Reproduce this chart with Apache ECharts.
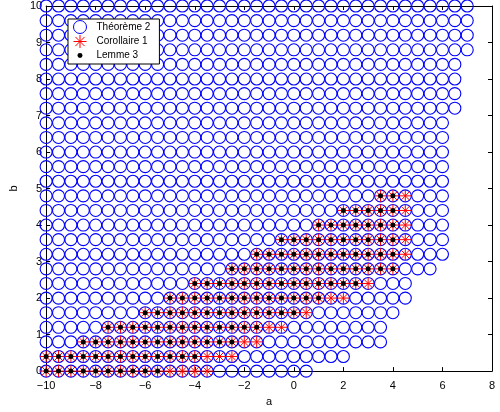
<!DOCTYPE html>
<html>
<head>
<meta charset="utf-8">
<script src="https://cdn.jsdelivr.net/npm/echarts@6/dist/echarts.min.js"></script>
<style>
html,body{margin:0;padding:0;background:#fff;}
#chart{width:500px;height:412px;}
</style>
</head>
<body>
<div id="chart"></div>
<script>
// ---- data ----
// rows of the grid (values of b)
const bValues = [0, 0.4, 0.8, 1.2, 1.6, 2.0, 2.4, 2.8, 3.2, 3.6, 4.0, 4.4, 4.8, 5.2, 5.6, 6.0, 6.4, 6.8, 7.2, 7.6, 8.0, 8.4, 8.8, 9.2, 9.6, 10.0];
// a starts at -10 in every row, step 0.5
const aStart = -10;
const aStep = 0.5;
// Théorème 2: last a of each row
const theoremMaxA = [0.5, 2.0, 3.5, 3.5, 4.0, 4.5, 4.5, 5.5, 6.0, 6.0, 6.0, 6.0, 6.0, 6.0, 6.0, 6.0, 6.0, 6.0, 6.5, 6.5, 6.5, 6.5, 7.0, 7.0, 7.0, 7.0];
// Corollaire 1: [first a, last a] for rows b = 0 .. 4.8
const corollaryMinA = [-10, -10, -8.5, -7.5, -6.0, -5.0, -4.0, -2.5, -1.5, -0.5, 1.0, 2.0, 3.5];
const corollaryMaxA = [-3.5, -2.5, -1.5, -0.5, 0.5, 2.0, 3.0, 4.0, 4.5, 4.5, 4.5, 4.5, 4.5];
// Lemme 3: [first a, last a] for rows b = 0 .. 4.8
const lemmaMinA = [-10, -10, -8.5, -7.5, -6.0, -5.0, -4.0, -2.5, -1.5, -0.5, 1.0, 2.0, 3.5];
const lemmaMaxA = [-5.5, -4.0, -2.5, -1.5, 0.0, 1.0, 2.5, 4.0, 4.0, 4.0, 4.0, 4.0, 4.0];
// axis ticks
const xTicks = [-10, -8, -6, -4, -2, 0, 2, 4, 6, 8];
const yTicks = [0, 1, 2, 3, 4, 5, 6, 7, 8, 9, 10];
const seriesNames = ['Théorème 2', 'Corollaire 1', 'Lemme 3'];

function rowPoints(b, lo, hi) {
  const pts = [];
  const n = Math.round((hi - lo) / aStep);
  for (let k = 0; k <= n; k++) pts.push([lo + k * aStep, b]);
  return pts;
}
const theoremData = [], corollaryData = [], lemmaData = [];
bValues.forEach((b, i) => {
  theoremData.push(...rowPoints(b, aStart, theoremMaxA[i]));
  if (i < corollaryMinA.length) corollaryData.push(...rowPoints(b, corollaryMinA[i], corollaryMaxA[i]));
  if (i < lemmaMinA.length) lemmaData.push(...rowPoints(b, lemmaMinA[i], lemmaMaxA[i]));
});

const FONT = 'Liberation Sans, Arial, Helvetica, sans-serif';
const asterisk = 'path://M0,6L12,6M6,0L6,12M1.76,1.76L10.24,10.24M1.76,10.24L10.24,1.76';
// small dot inside a 12x12 box (moves only extend the box)
const smallDot = 'path://M0,0M12,12M3.7,6A2.3,2.3,0,1,1,8.3,6A2.3,2.3,0,1,1,3.7,6Z';
const fmt = v => String(v).replace('-', '\u2212');

const chart = echarts.init(document.getElementById('chart'), null, {renderer: 'canvas'});
const axisCommon = {
  type: 'value',
  axisLine: {show: true, onZero: false, lineStyle: {color: '#000', width: 1}},
  axisTick: {show: true, inside: true, length: 4, lineStyle: {color: '#000', width: 1}},
  splitLine: {show: false},
  z: 1
};
chart.setOption({
  animation: false,
  backgroundColor: '#fff',
  grid: {left: 44, right: 8, top: 6, bottom: 34, containLabel: false},
  xAxis: [
    Object.assign({}, axisCommon, {
      min: xTicks[0], max: xTicks[xTicks.length - 1], interval: xTicks[1] - xTicks[0], position: 'bottom',
      axisLabel: {color: '#000', fontSize: 11, fontFamily: FONT, margin: 9, formatter: fmt},
      name: 'a', nameLocation: 'middle', nameGap: 18,
      nameTextStyle: {color: '#000', fontSize: 11, fontFamily: FONT}
    }),
    Object.assign({}, axisCommon, {
      min: xTicks[0], max: xTicks[xTicks.length - 1], interval: xTicks[1] - xTicks[0], position: 'top',
      axisLabel: {show: false}
    })
  ],
  yAxis: [
    Object.assign({}, axisCommon, {
      min: yTicks[0], max: yTicks[yTicks.length - 1], interval: yTicks[1] - yTicks[0], position: 'left',
      axisLabel: {color: '#000', fontSize: 11, fontFamily: FONT, margin: 4, formatter: fmt},
      name: 'b', nameLocation: 'middle', nameGap: 21, nameRotate: 90,
      nameTextStyle: {color: '#000', fontSize: 11, fontFamily: FONT}
    }),
    Object.assign({}, axisCommon, {
      min: yTicks[0], max: yTicks[yTicks.length - 1], interval: yTicks[1] - yTicks[0], position: 'right',
      axisLabel: {show: false}
    })
  ],
  legend: {
    orient: 'vertical', left: 68, top: 19,
    padding: [1, 9, 2, 5],
    itemWidth: 23, itemHeight: 13, itemGap: 0.5,
    borderColor: '#000', borderWidth: 1, borderRadius: 0,
    backgroundColor: '#fff',
    textStyle: {color: '#000', fontSize: 10, fontFamily: FONT},
    selectedMode: false,
    z: 10,
    data: [
      {name: seriesNames[0], icon: 'circle', itemStyle: {color: 'rgba(0,0,0,0)', borderColor: '#0000ff', borderWidth: 1}},
      {name: seriesNames[1], icon: asterisk, itemStyle: {color: 'rgba(0,0,0,0)', borderColor: '#ff0000', borderWidth: 1}},
      {name: seriesNames[2], icon: smallDot, itemStyle: {color: '#000', borderWidth: 0}}
    ]
  },
  series: [
    {
      name: seriesNames[0], type: 'scatter', data: theoremData, clip: false,
      xAxisIndex: 0, yAxisIndex: 0,
      symbol: 'circle', symbolSize: 12, z: 2,
      itemStyle: {color: 'rgba(0,0,0,0)', borderColor: '#0000ff', borderWidth: 1.1, opacity: 1},
      emphasis: {disabled: true}, silent: true
    },
    {
      name: seriesNames[1], type: 'scatter', data: corollaryData, clip: false,
      symbol: asterisk, symbolSize: 12, z: 3,
      itemStyle: {color: 'rgba(0,0,0,0)', borderColor: '#ff0000', borderWidth: 1, opacity: 1},
      emphasis: {disabled: true}, silent: true
    },
    {
      name: seriesNames[2], type: 'scatter', data: lemmaData, clip: false,
      symbol: 'circle', symbolSize: 5, z: 4,
      itemStyle: {color: '#000', borderWidth: 0, opacity: 1},
      emphasis: {disabled: true}, silent: true
    }
  ]
});
</script>
</body>
</html>
